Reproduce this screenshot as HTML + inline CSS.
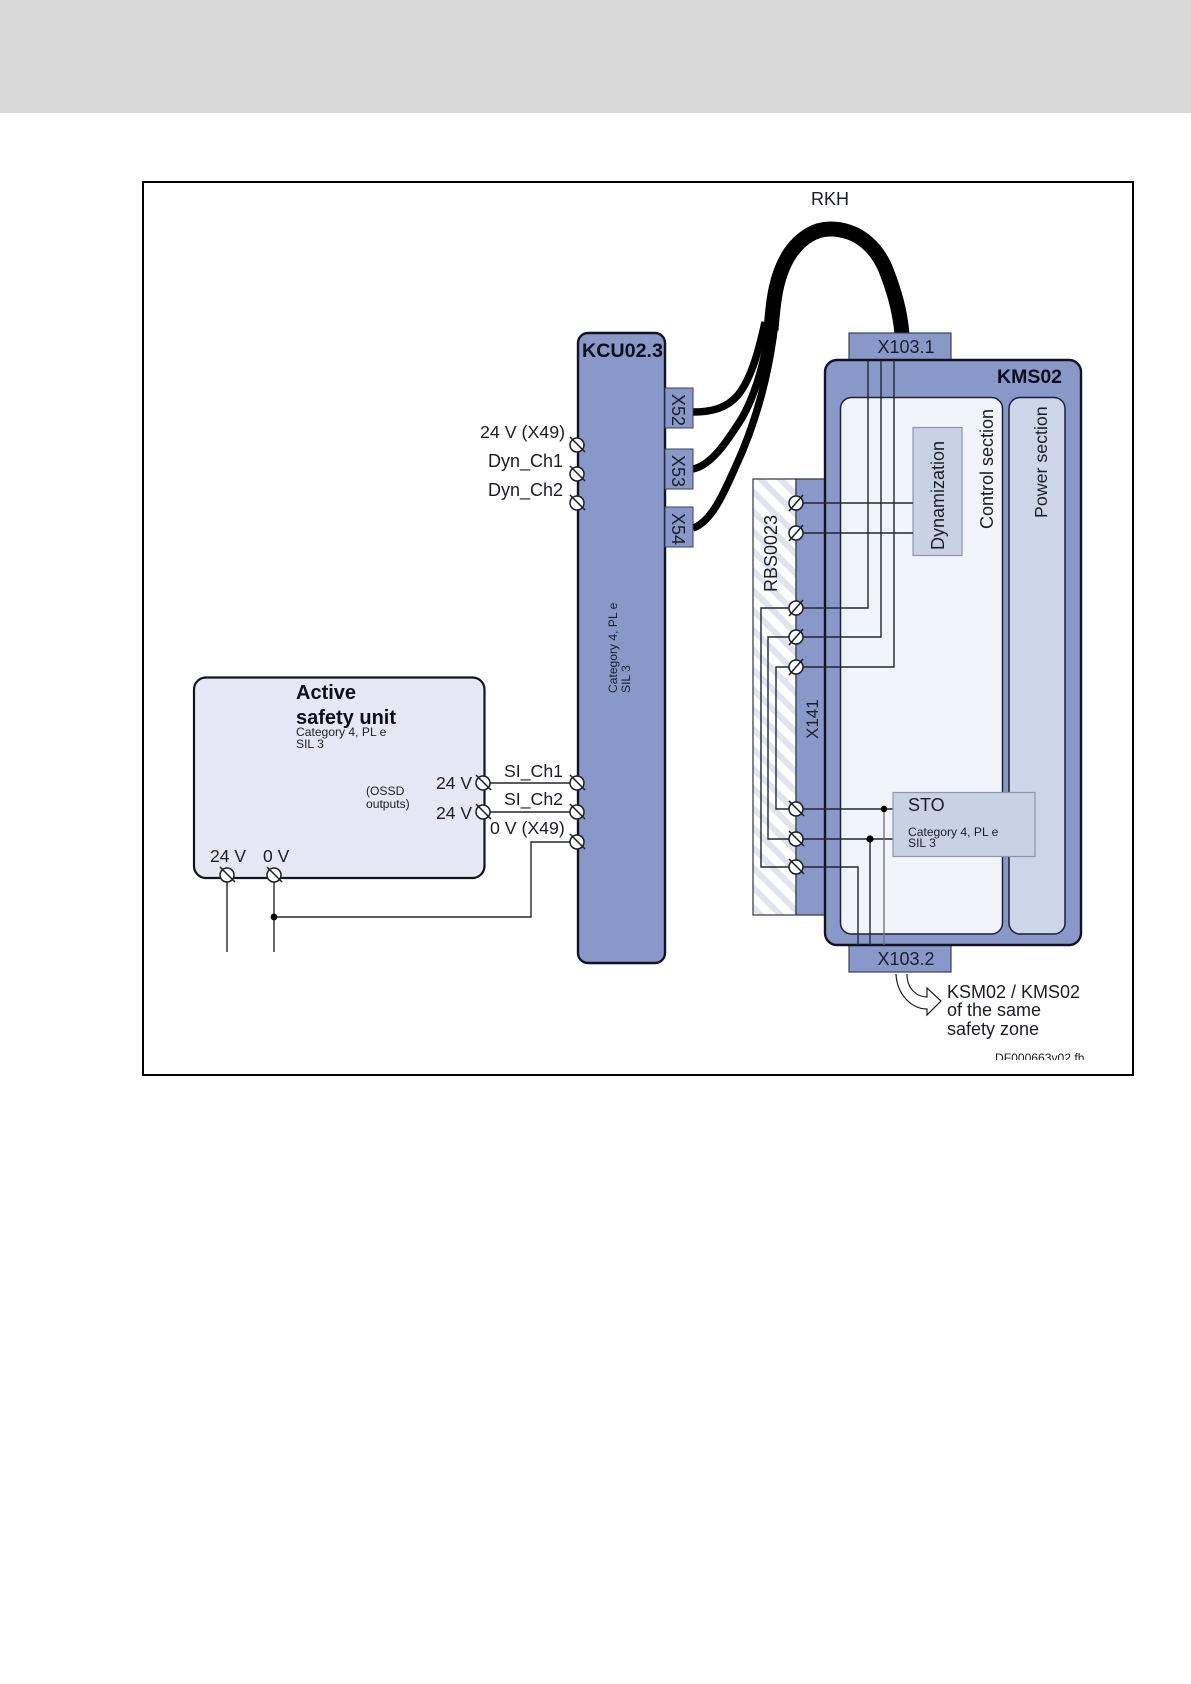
<!DOCTYPE html>
<html><head><meta charset="utf-8"><style>
html,body{margin:0;padding:0;background:#fff}
svg{display:block}
text{font-family:"Liberation Sans",sans-serif;font-size:18px;fill:#1a1d26}
.b{font-weight:bold;font-size:20px;fill:#0b0e1a}
.s{font-size:12.1px}
.l{stroke:#23262e;stroke-width:1.4;fill:none}
.c{stroke:#000;fill:none}
</style></head><body>
<svg width="1191" height="1684" viewBox="0 0 1191 1684" xmlns="http://www.w3.org/2000/svg">
<defs>
<pattern id="h" width="14" height="14" patternUnits="userSpaceOnUse" patternTransform="rotate(-45)">
<rect width="14" height="14" fill="#fff"/><rect width="6" height="14" fill="#e0e4ee"/>
</pattern>
<g id="t1"><circle r="7" fill="#fff" stroke="#1a1d26" stroke-width="1.5"/><line x1="-7" y1="-8" x2="8" y2="7" stroke="#1a1d26" stroke-width="1.5"/></g>
<g id="t2"><circle r="7" fill="#fff" stroke="#1a1d26" stroke-width="1.5"/><line x1="-7" y1="8" x2="7" y2="-8" stroke="#1a1d26" stroke-width="1.5"/></g>
<clipPath id="dc"><rect x="900" y="1040" width="220" height="20"/></clipPath>
</defs>
<rect width="1191" height="1684" fill="#fff"/>
<rect width="1191" height="113" fill="#d9d9d9"/>
<rect x="143" y="182" width="990" height="893" fill="#fff" stroke="#000" stroke-width="2"/>

<text x="811" y="205">RKH</text>

<!-- cable -->
<path class="c" stroke-width="15" d="M771,330C773,305 775,275 791,252C801,238 815,229 830,229C860,229 878,250 886,270C895,293 900,312 902,334"/>
<path class="c" stroke-width="7.5" d="M693,412C712,412 727,408 738,395C750,380 758,355 765,322"/>
<path class="c" stroke-width="7.5" d="M693,469C712,465 728,440 742,418C755,395 764,365 771,322"/>
<path class="c" stroke-width="7.5" d="M693,528C712,522 725,490 735,468C755,425 769,375 775,322"/>

<!-- KCU -->
<rect x="578" y="333" width="87" height="630" rx="10" fill="#8899c9" stroke="#11141f" stroke-width="2.4"/>
<rect x="665" y="388" width="28" height="40" fill="#8899c9" stroke="#3b4256" stroke-width="1"/>
<rect x="665" y="449" width="28" height="40" fill="#8899c9" stroke="#3b4256" stroke-width="1"/>
<rect x="665" y="507" width="28" height="40" fill="#8899c9" stroke="#3b4256" stroke-width="1"/>
<text class="b" x="582" y="357" style="font-size:19.7px">KCU02.3</text>
<text transform="translate(672,394) rotate(90)">X52</text>
<text transform="translate(672,455) rotate(90)">X53</text>
<text transform="translate(672,513) rotate(90)">X54</text>
<text class="s" transform="translate(617,693) rotate(-90)">Category 4, PL e</text>
<text class="s" transform="translate(630,693) rotate(-90)">SIL 3</text>

<!-- RBS + X141 -->
<rect x="753" y="479" width="43" height="436" fill="url(#h)" stroke="#30343f" stroke-width="1.2"/>
<rect x="796" y="479" width="30" height="436" fill="#8899c9" stroke="#30343f" stroke-width="1.2"/>
<text transform="translate(777,592) rotate(-90)">RBS0023</text>
<text style="font-size:17px" transform="translate(818,739) rotate(-90)">X141</text>

<!-- KMS -->
<rect x="849" y="333" width="102" height="27" fill="#8899c9" stroke="#3b4256" stroke-width="1.2"/>
<rect x="849" y="945" width="102" height="27" fill="#8899c9" stroke="#3b4256" stroke-width="1.2"/>
<rect x="825" y="360" width="256" height="585" rx="12" fill="#8899c9" stroke="#11141f" stroke-width="2.4"/>
<rect x="840.5" y="397.5" width="162" height="536.5" rx="11" fill="#f1f4fb" stroke="#1a2036" stroke-width="1.5"/>
<rect x="1009" y="397.5" width="56" height="536.5" rx="11" fill="#cdd5e8" stroke="#1a2036" stroke-width="1.5"/>
<rect x="913" y="427.5" width="49" height="128" fill="#c9d1e5" stroke="#8d96ae" stroke-width="1.2"/>
<text class="b" x="997" y="383" style="font-size:19.5px">KMS02</text>
<text x="877.5" y="353">X103.1</text>
<text x="877.5" y="965">X103.2</text>
<text transform="translate(944,550) rotate(-90)">Dynamization</text>
<text transform="translate(993,529) rotate(-90)">Control section</text>
<text transform="translate(1047,518) rotate(-90)" style="font-size:17.8px">Power section</text>

<!-- KMS wires -->
<path class="l" d="M796,503H913M796,533H913"/>
<path class="l" d="M868,360V608H761V867H858V945"/>
<path class="l" d="M881,360V637H768V839H893"/>
<path class="l" d="M894,360V667H776V809H893"/>
<path class="l" d="M870,839V945"/>
<path d="M884,809V945" fill="none" stroke="#6b6f78" stroke-width="1.3"/>
<circle cx="884" cy="809" r="3.2" fill="#000"/>
<circle cx="870" cy="839" r="3.6" fill="#000"/>

<!-- STO -->
<rect x="893" y="792.5" width="142" height="64" fill="#c9d1e5" stroke="#8d96ae" stroke-width="1.2"/>
<text x="908" y="811">STO</text>
<text class="s" x="908" y="836">Category 4, PL e</text>
<text class="s" x="908" y="847">SIL 3</text>

<!-- X141 terminals -->
<use href="#t2" x="796" y="503"/><use href="#t2" x="796" y="533"/>
<use href="#t2" x="796" y="608"/><use href="#t2" x="796" y="637"/><use href="#t2" x="796" y="667"/>
<use href="#t1" x="796" y="809"/><use href="#t1" x="796" y="839"/><use href="#t1" x="796" y="867"/>

<!-- Active -->
<rect x="194" y="677.5" width="290.5" height="200.5" rx="12" fill="#e6e9f5" stroke="#11141f" stroke-width="2.2"/>
<text class="b" x="296" y="699">Active</text>
<text class="b" x="296" y="724">safety unit</text>
<text class="s" x="296" y="736">Category 4, PL e</text>
<text class="s" x="296" y="748">SIL 3</text>
<text class="s" x="366" y="795">(OSSD</text>
<text class="s" x="366" y="808">outputs)</text>
<text x="436" y="789" style="font-size:17.5px">24 V</text>
<text x="436" y="819" style="font-size:17.5px">24 V</text>
<text x="210" y="862" style="font-size:17.5px">24 V</text>
<text x="263" y="862" style="font-size:17.5px">0 V</text>

<!-- KCU wires -->
<path class="l" d="M483,783H577M483,812H577M577,842H531V917H274M227,875V952M274,875V952"/>
<circle cx="274" cy="917" r="3.4" fill="#000"/>
<text x="504" y="777" style="font-size:17.7px">SI_Ch1</text>
<text x="504" y="805" style="font-size:17.7px">SI_Ch2</text>
<text x="490" y="834" style="font-size:17.7px">0 V (X49)</text>
<text x="480" y="438" style="font-size:17.8px">24 V (X49)</text>
<text x="488" y="467" style="font-size:18px">Dyn_Ch1</text>
<text x="488" y="496" style="font-size:18px">Dyn_Ch2</text>

<use href="#t1" x="577" y="445"/><use href="#t1" x="577" y="474"/><use href="#t1" x="577" y="503"/>
<use href="#t1" x="577" y="783"/><use href="#t1" x="577" y="812"/><use href="#t1" x="577" y="842"/>
<use href="#t1" x="483" y="783"/><use href="#t1" x="483" y="812"/>
<use href="#t1" x="227" y="875"/><use href="#t1" x="274" y="875"/>

<!-- arrow -->
<path d="M896,974C897,995 912,1009 927,1009L927,1015L941,1001L927,988L927,997C918,997 907,990 907,974" fill="#fff" stroke="#1a1d26" stroke-width="1.2"/>
<text x="947" y="998">KSM02 / KMS02</text>
<text x="947" y="1016">of the same</text>
<text x="947" y="1035">safety zone</text>
<text class="s" x="995" y="1062" clip-path="url(#dc)">DF000663v02.fh</text>
</svg>
</body></html>
